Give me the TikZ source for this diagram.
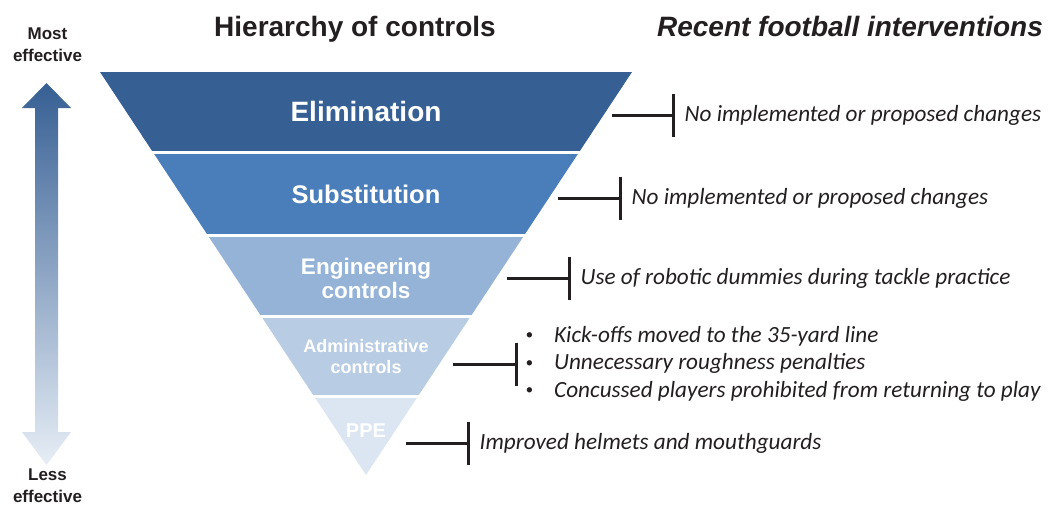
\documentclass[tikz,border=0pt]{standalone}
\usepackage{fontspec}
\setmainfont{Liberation Sans}
\newfontfamily\notefont{Carlito}
\usetikzlibrary{positioning,arrows.meta}

\definecolor{elimblue}{HTML}{365F93}
\definecolor{substblue}{HTML}{4A7EBB}
\definecolor{engblue}{HTML}{95B3D7}
\definecolor{adminblue}{HTML}{B8CCE4}
\definecolor{ppeblue}{HTML}{DCE6F2}
\definecolor{arrowmid}{HTML}{6693CC}
\definecolor{inktext}{HTML}{231F20}

\newcommand{\smallbullet}{\raisebox{2.5pt}{\fontsize{15}{15}\selectfont\textbullet}}

\tikzset{
  heading/.style={font=\bfseries\fontsize{28}{32}\selectfont, text=inktext, inner sep=0pt, anchor=base},
  side/.style={font=\bfseries\fontsize{17}{22}\selectfont, text=inktext, align=center, inner sep=0pt},
  level/.style={font=\bfseries, text=white, align=center, inner sep=0pt},
  note/.style={font=\notefont\itshape\fontsize{23.2}{27.5}\selectfont, text=inktext, inner sep=0pt},
  link/.style={line width=3pt, inktext, -{Bar[width=43pt, line width=3pt]}},
}

\begin{document}
\begin{tikzpicture}[x=1pt,y=-1pt]
\useasboundingbox (0,0) rectangle (1049,506);

% titles
\node[heading] (hier) at (355,36) {Hierarchy of controls};
\node[heading, font=\bfseries\itshape\fontsize{28}{32}\selectfont] (recent) at (850,36) {Recent football interventions};

% effectiveness arrow
\shade[top color=elimblue, middle color=arrowmid, bottom color=ppeblue!70!white]
  (46.5,83) -- (71,108) -- (58,108) -- (58,432) -- (71,432) -- (46.5,465)
  -- (22,432) -- (35,432) -- (35,108) -- (22,108) -- cycle;
\node[side] (most) at (47.5,45) {Most\\effective};
\node[side] (less) at (47.5,486) {Less\\effective};

% inverted triangle, cut into levels
\begin{scope}
  \clip (100,72) -- (632,72) -- (366,475) -- cycle;
  \foreach \top/\bot/\col in {72/151/elimblue, 154/234/substblue, 237/315/engblue,
                              318/395/adminblue, 398/476/ppeblue}
    \fill[\col] (90,\top) rectangle (640,\bot);
\end{scope}

\node[level, font=\bfseries\fontsize{28}{30}\selectfont] (elim) at (366,111.5) {Elimination};
\node[level, font=\bfseries\fontsize{25.5}{28}\selectfont] (subst) at (366,194) {Substitution};
\node[level, font=\bfseries\fontsize{22.5}{24}\selectfont] (eng) at (366,278) {Engineering\\controls};
\node[level, font=\bfseries\fontsize{18}{21}\selectfont] (admin) at (366,357) {Administrative\\controls};
\node[level, font=\bfseries\fontsize{20}{22}\selectfont] (ppe) at (366,430.5) {PPE};

% connectors to the interventions
\coordinate (s1) at (612,115);  \coordinate (b1) at (674.5,115);
\coordinate (s2) at (558,198);  \coordinate (b2) at (621.5,198);
\coordinate (s3) at (507,278);  \coordinate (b3) at (570.5,278);
\coordinate (s4) at (453,364);  \coordinate (b4) at (517.5,364);
\coordinate (s5) at (406,443);  \coordinate (b5) at (469.5,443);

\node[note, right=10pt of b1] (t1) {No implemented or proposed changes};
\node[note, right=10pt of b2] (t2) {No implemented or proposed changes};
\node[note, right=10pt of b3] (t3) {Use of robotic dummies during tackle practice};
\node[note, right=8pt of b4] (t4) {\begin{tabular}{@{}c@{\hspace{21pt}}l@{}}
  \smallbullet & Kick-offs moved to the 35-yard line\\
  \smallbullet & Unnecessary roughness penalties\\
  \smallbullet & Concussed players prohibited from returning to play
\end{tabular}};
\node[note, right=10pt of b5] (t5) {Improved helmets and mouthguards};

\foreach \i in {1,...,5}
  \draw[link] (s\i) -- (b\i);
\end{tikzpicture}
\end{document}
